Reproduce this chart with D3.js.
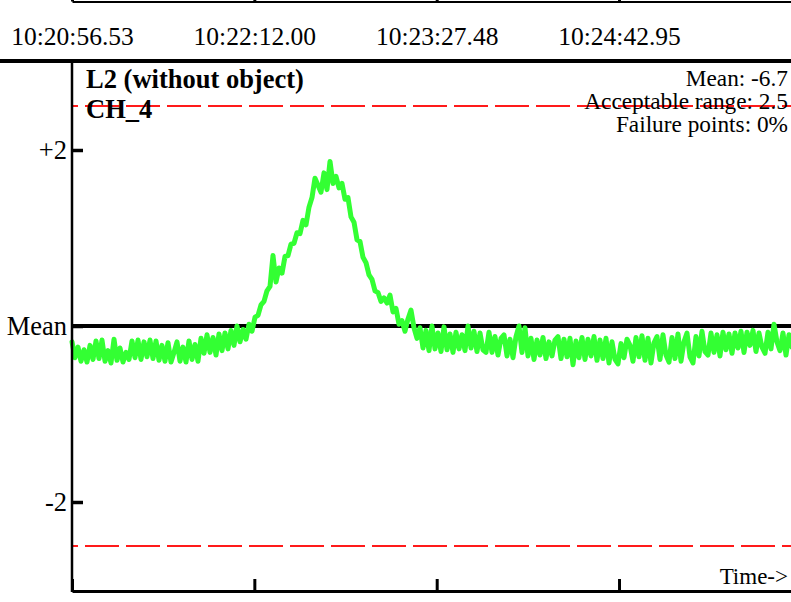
<!DOCTYPE html>
<html>
<head>
<meta charset="utf-8">
<script src="https://cdn.jsdelivr.net/npm/d3@7"></script>
<style>
  html, body { margin: 0; padding: 0; background: #fff; }
  svg { display: block; }
  text { font-family: "Liberation Serif", "Times New Roman", serif; fill: #000; }
</style>
</head>
<body>
<svg id="chart" width="791" height="602"></svg>
<script>
// ---------------- data ----------------
const titleLines = ["L2 (without object)", "CH_4"];
const statsLines = ["Mean: -6.7", "Acceptable range: 2.5", "Failure points: 0%"];
const xAxisLabel = "Time->";
const timeTickLabels = ["10:20:56.53", "10:22:12.00", "10:23:27.48", "10:24:42.95"];
const timeTickSeconds = [0, 75.47, 150.95, 226.42];
const timeSpanSeconds = 297.6;
const sampleInterval = 1.2417; // seconds between samples
const yTickValues = [2, 0, -2];
const yTickLabels = ["+2", "Mean", "-2"];
const acceptableRange = 2.5;
// deviation from the mean, one value per sample
const deviation = [
  -0.18,-0.36,-0.24,-0.40,-0.27,-0.41,-0.22,-0.38,-0.17,-0.37,
  -0.16,-0.40,-0.28,-0.42,-0.15,-0.39,-0.25,-0.41,-0.30,-0.38,
  -0.17,-0.36,-0.16,-0.38,-0.18,-0.35,-0.16,-0.37,-0.17,-0.39,
  -0.22,-0.40,-0.19,-0.41,-0.30,-0.18,-0.40,-0.24,-0.41,-0.17,
  -0.38,-0.21,-0.40,
  -0.14,-0.31,-0.10,-0.30,-0.13,-0.33,-0.09,-0.28,-0.08,-0.26,
  -0.05,-0.22, 0.00,-0.18,-0.04,-0.15, 0.02,
  -0.06, 0.10, 0.12, 0.24, 0.28, 0.40, 0.45, 0.80, 0.50, 0.66,
   0.60, 0.79, 0.80, 0.93, 0.94, 1.06, 1.05, 1.20, 1.15, 1.35,
   1.46, 1.68, 1.60, 1.52, 1.74, 1.55, 1.87, 1.62, 1.70, 1.57,
   1.62, 1.44, 1.46, 1.24, 1.18, 0.98, 0.96, 0.78, 0.72, 0.58,
   0.53, 0.40, 0.38, 0.28, 0.32, 0.26, 0.35, 0.16, 0.20, 0.02,
   0.06,-0.06, 0.08, 0.18,-0.02,-0.14,
  -0.02,-0.25,-0.05,-0.28, 0.00,-0.26,-0.08,-0.29,-0.01,-0.27,
  -0.09,-0.30,-0.07,-0.26,-0.10,-0.28, 0.00,-0.25,-0.06,-0.29,
  -0.08,-0.27,-0.30,-0.07,
  -0.30,-0.12,-0.33,-0.14,-0.10,-0.34,-0.15,-0.36,-0.12, 0.00,
  -0.30,-0.02,-0.34,-0.14,-0.38,-0.16,-0.33,-0.13,-0.37,-0.18,
  -0.34,-0.16,-0.12,-0.37,-0.15,-0.35,-0.14,-0.44,-0.17,-0.36,
  -0.13,-0.38,-0.15,-0.34,-0.12,-0.39,-0.16,-0.37,-0.14,-0.42,
  -0.18,-0.38,-0.43,-0.20,-0.36,-0.15,-0.22,-0.40,-0.13,-0.35,
  -0.11,-0.39,-0.14,-0.42,-0.19,-0.12,-0.38,-0.10,-0.33,-0.41,
  -0.13,-0.37,-0.09,-0.40,-0.18,-0.08,-0.35,-0.42,-0.12,-0.34,
  -0.06,-0.29,-0.33,-0.08,-0.30,-0.10,-0.34,-0.07,-0.27,-0.09,
  -0.31,-0.08,-0.25,-0.06,-0.30,-0.07,-0.22,-0.05,-0.29,-0.08,
  -0.24,-0.31,-0.07,-0.26, 0.02,-0.18,-0.28,-0.08,-0.33,-0.10,
  -0.24
];

// ---------------- layout ----------------
const svg = d3.select("#chart");
const W = 791, H = 602;
const plotLeft = 72, plotRight = 791, plotTop = 62, plotBottom = 590;

const x = d3.scaleLinear().domain([0, timeSpanSeconds]).range([plotLeft, plotRight]);
const y = d3.scaleLinear().domain([-3, 3]).range([plotBottom, plotTop]);

svg.append("rect").attr("width", W).attr("height", H).attr("fill", "#fff");

// top time axis
const topAxis = svg.append("g")
  .attr("transform", "translate(0,1.5)")
  .call(d3.axisBottom(x)
    .tickValues(timeTickSeconds)
    .tickSizeInner(-8)
    .tickSizeOuter(0)
    .tickFormat((d, i) => timeTickLabels[i]));
topAxis.select(".domain").attr("stroke", "#000").attr("stroke-width", 2);
topAxis.selectAll(".tick line").attr("stroke", "#000").attr("stroke-width", 3);
topAxis.selectAll(".tick text")
  .attr("y", 43.5).attr("dy", 0)
  .style("font-size", "25.5px")
  .style("font-family", "'Liberation Serif', serif")
  .attr("fill", "#000");

// separator
svg.append("line")
  .attr("x1", 0).attr("x2", W).attr("y1", 61).attr("y2", 61)
  .attr("stroke", "#000").attr("stroke-width", 4);

// acceptable-range lines
svg.selectAll(".range")
  .data([acceptableRange, -acceptableRange])
  .join("line")
  .attr("class", "range")
  .attr("x1", plotLeft).attr("x2", plotRight)
  .attr("y1", d => y(d)).attr("y2", d => y(d))
  .attr("stroke", "#ff1a1a").attr("stroke-width", 2)
  .attr("stroke-dasharray", "34,7")
  .attr("stroke-dashoffset", 28);

// mean line
svg.append("line")
  .attr("x1", plotLeft).attr("x2", plotRight)
  .attr("y1", y(0)).attr("y2", y(0))
  .attr("stroke", "#000").attr("stroke-width", 4);

// signal
const line = d3.line()
  .x((d, i) => x(i * sampleInterval))
  .y(d => y(d));
svg.append("path")
  .datum(deviation)
  .attr("d", line)
  .attr("fill", "none")
  .attr("stroke", "#33ff33")
  .attr("stroke-width", 5)
  .attr("stroke-linejoin", "round")
  .attr("stroke-linecap", "round");

// left axis
const leftAxis = svg.append("g")
  .attr("transform", `translate(${plotLeft},0)`)
  .call(d3.axisLeft(y)
    .tickValues(yTickValues)
    .tickSizeInner(-11)
    .tickSizeOuter(0)
    .tickPadding(5)
    .tickFormat((d, i) => yTickLabels[i]));
leftAxis.select(".domain").attr("stroke", "#000").attr("stroke-width", 2.5)
  .attr("d", `M0,${plotTop - 1}V${plotBottom + 2}`);
leftAxis.selectAll(".tick line").attr("stroke", "#000").attr("stroke-width", 3.5);
leftAxis.selectAll(".tick text")
  .style("font-size", "26.5px")
  .style("font-family", "'Liberation Serif', serif")
  .attr("fill", "#000")
  .attr("dy", "0.33em");

// bottom axis
const bottomAxis = svg.append("g")
  .attr("transform", `translate(0,591)`)
  .call(d3.axisBottom(x)
    .tickValues(timeTickSeconds)
    .tickSizeInner(-12)
    .tickSizeOuter(0)
    .tickFormat(""));
bottomAxis.select(".domain").attr("stroke", "#000").attr("stroke-width", 3);
bottomAxis.selectAll(".tick line").attr("stroke", "#000").attr("stroke-width", 3);

// x label
svg.append("text")
  .attr("x", 788).attr("y", 584)
  .attr("text-anchor", "end")
  .style("font-size", "23px")
  .text(xAxisLabel);

// title
svg.selectAll(".title")
  .data(titleLines)
  .join("text")
  .attr("class", "title")
  .attr("x", 86)
  .attr("y", (d, i) => 88 + i * 30)
  .style("font-size", "26.5px")
  .style("font-weight", "bold")
  .text(d => d);

// stats
svg.selectAll(".stats")
  .data(statsLines)
  .join("text")
  .attr("class", "stats")
  .attr("x", 788)
  .attr("y", (d, i) => 86 + i * 23)
  .attr("text-anchor", "end")
  .style("font-size", "23.3px")
  .text(d => d);
</script>
</body>
</html>
